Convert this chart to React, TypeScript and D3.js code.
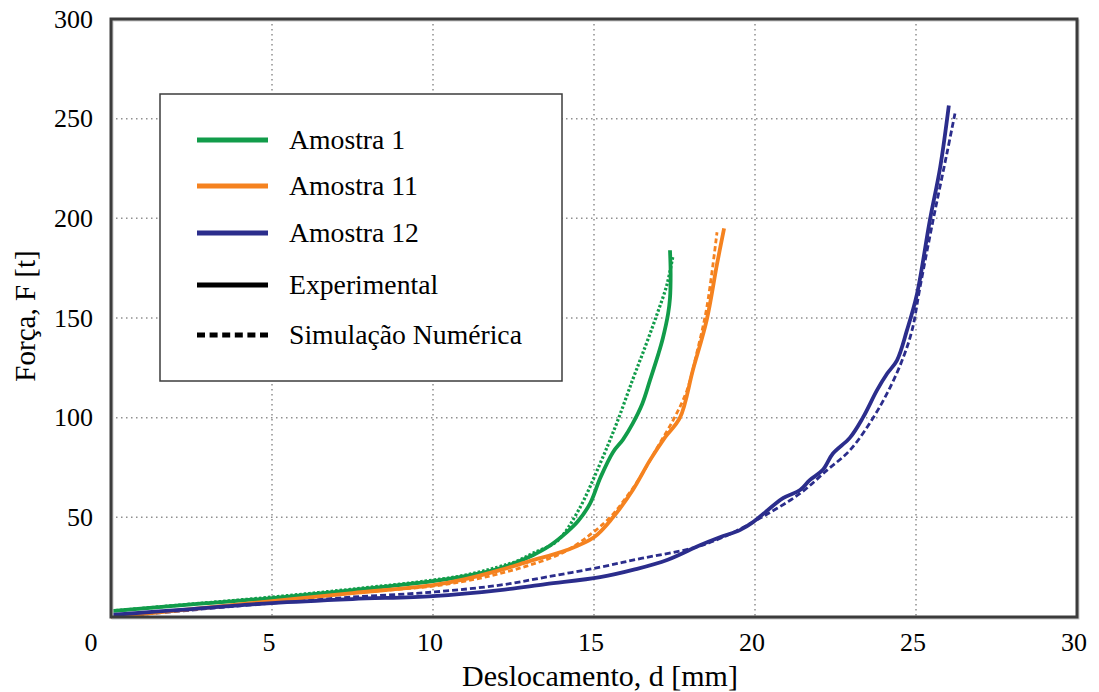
import React from 'react';
import * as d3 from 'd3';

// tick labels
const xTicks = [0, 5, 10, 15, 20, 25, 30];
const yTicks = [50, 100, 150, 200, 250, 300];
const gridX = [5, 10, 15, 20, 25];
const gridY = [50, 100, 150, 200, 250];

// Amostra 1 (green)
const a1ExpX = [0, 2.5, 5, 7.5, 10, 11, 12, 12.6, 13.1, 13.6, 14.16, 14.5, 14.88, 15.2, 15.59, 15.9, 16.2, 16.5, 16.74, 17.0, 17.14, 17.3, 17.36, 17.38, 17.36];
const a1ExpY = [3, 6.3, 9.5, 13.5, 18, 20.5, 24, 27.5, 31, 35.5, 42.6, 48, 57, 70, 82.7, 89, 97, 107, 118.8, 132, 140, 152, 160, 172, 184];
const a1SimX = [0, 2.5, 5, 7.5, 10, 11, 12, 12.6, 13.1, 13.85, 14.5, 15.19, 15.7, 16.2, 16.6, 16.96, 17.27, 17.45];
const a1SimY = [3, 6.5, 10, 14, 18.5, 21, 25, 28, 32, 38, 53, 77, 97, 119, 136, 152, 167, 181];

// Amostra 11 (orange)
const a11ExpX = [0, 2.5, 5, 7.5, 10, 11, 12.08, 13, 14.16, 15, 15.59, 16.2, 16.74, 17.2, 17.67, 18.07, 18.5, 18.82, 19.04];
const a11ExpY = [0, 4, 8, 12, 16, 19, 23.5, 28, 33.6, 40, 50, 63.6, 78.7, 90, 100, 123.8, 149, 177, 195];
const a11SimX = [0, 2.5, 5, 7.5, 10, 11, 12, 13, 14, 14.66, 15.5, 16.0, 16.43, 17.0, 17.5, 17.89, 18.2, 18.5, 18.82];
const a11SimY = [0, 4, 8, 12, 15.5, 18, 21.5, 26, 32, 38.6, 50, 60, 70, 86, 100, 113.8, 133, 155, 193];

// Amostra 12 (blue)
const a12ExpX = [0, 2.5, 5, 7.5, 10, 12.08, 13.5, 15.19, 16.3, 17.27, 18.29, 18.91, 19.53, 19.94, 20.87, 21.4, 21.7, 22.1, 22.42, 22.95, 23.35, 23.79, 24.1, 24.41, 24.72, 25.03, 25.43, 25.75, 26.02];
const a12ExpY = [1, 4, 7, 9, 10.5, 13.5, 16.5, 20, 24, 28.6, 36, 40, 43.6, 47.6, 59.6, 63.7, 68.7, 73.7, 82, 90, 100, 113.8, 122, 128.8, 143.9, 162, 199, 225.5, 256.6];
const a12SimX = [0, 2.5, 5, 7.5, 10, 12.08, 13.5, 15.19, 16.5, 18.07, 19.0, 20.16, 21.4, 22.24, 22.95, 23.66, 24.19, 24.6, 24.88, 25.12, 25.53, 25.96, 26.21];
const a12SimY = [0, 3.5, 7, 10, 12.5, 16, 20, 25, 29.5, 34.6, 40, 49.6, 62, 73.7, 83.7, 99.7, 115, 130, 144, 165, 199, 232.6, 252.6];

const legendNames = ['Amostra 1', 'Amostra 11', 'Amostra 12', 'Experimental', 'Simulação Numérica'];

const GREEN = '#119c4a';
const ORANGE = '#f5821f';
const BLUE = '#2b2d8c';
const FONT = '"Liberation Serif", "Times New Roman", serif';

export default function App() {
  const left = 111, right = 1077, top = 19, bottom = 617;
  const x = d3.scaleLinear().domain([0, 30]).range([left, right]);
  const y = d3.scaleLinear().domain([0, 300]).range([bottom, top]);

  const mk = (xs: number[], ys: number[]) =>
    d3.line<number>()
      .x((_, i) => x(xs[i]))
      .y((_, i) => y(ys[i]))
      .curve(d3.curveCatmullRom.alpha(0.5))(xs) || '';

  // dashed simulations under the experimental curves
  const series = [
    { d: mk(a1SimX, a1SimY), color: GREEN, w: 3.2, dash: '2.5,2' },
    { d: mk(a11SimX, a11SimY), color: ORANGE, w: 2.8, dash: '5,3' },
    { d: mk(a12SimX, a12SimY), color: BLUE, w: 2.8, dash: '6,3' },
    { d: mk(a1ExpX, a1ExpY), color: GREEN, w: 3.8, dash: null },
    { d: mk(a11ExpX, a11ExpY), color: ORANGE, w: 3.8, dash: null },
    { d: mk(a12ExpX, a12ExpY), color: BLUE, w: 3.8, dash: null },
  ];

  const legendColors = [GREEN, ORANGE, BLUE, '#000', '#000'];
  const legendY = [140, 186, 233, 285, 335];

  return (
    <svg width={1099} height={692} style={{ position: 'absolute', left: 0, top: 0, background: '#fff' }}>
      <rect x={0} y={0} width={1099} height={692} fill="#fff" />
      {/* grid */}
      {gridX.map(v => (
        <line key={'gx' + v} x1={x(v)} x2={x(v)} y1={top} y2={bottom}
          stroke="#8f8f8f" strokeWidth={1.5} strokeDasharray="1.5,3.5" />
      ))}
      {gridY.map(v => (
        <line key={'gy' + v} x1={left} x2={right} y1={y(v)} y2={y(v)}
          stroke="#8f8f8f" strokeWidth={1.5} strokeDasharray="1.5,3.5" />
      ))}

      {/* curves */}
      {series.map((s, i) => (
        <path key={i} d={s.d} fill="none" stroke={s.color} strokeWidth={s.w}
          strokeDasharray={s.dash || undefined} strokeLinejoin="round" />
      ))}

      {/* frame */}
      <rect x={left + 1.5} y={top + 1.5} width={right - left} height={bottom - top}
        fill="none" stroke="#c8c8c8" strokeWidth={2} />
      <rect x={left} y={top} width={right - left} height={bottom - top}
        fill="none" stroke="#3c3c3c" strokeWidth={3} />

      {/* y tick labels */}
      {yTicks.map(v => (
        <text key={'yt' + v} x={93} y={y(v)} textAnchor="end" dominantBaseline="central"
          fontFamily={FONT} fontSize={26} fill="#000">{v}</text>
      ))}
      {/* x tick labels */}
      {xTicks.map(v => (
        <text key={'xt' + v} x={v === 0 ? 91 : x(v) - 3} y={642} textAnchor="middle" dominantBaseline="central"
          fontFamily={FONT} fontSize={26} fill="#000">{v}</text>
      ))}

      {/* axis titles */}
      <text x={600} y={686} textAnchor="middle" fontFamily={FONT} fontSize={30} fill="#000">
        Deslocamento, d [mm]
      </text>
      <text transform="translate(35,316) rotate(-90)" textAnchor="middle" fontFamily={FONT} fontSize={29} fill="#000">
        Força, F [t]
      </text>

      {/* legend */}
      <rect x={160} y={94} width={402} height={287} fill="#fff" stroke="#3c3c3c" strokeWidth={1.5} />
      {legendNames.map((n, i) => (
        <g key={n}>
          <line x1={197} x2={268} y1={legendY[i]} y2={legendY[i]} stroke={legendColors[i]}
            strokeWidth={5} strokeDasharray={i === 4 ? '8,4.6' : undefined} />
          <text x={289} y={legendY[i] + 9} fontFamily={FONT} fontSize={27.7} fill="#000">{n}</text>
        </g>
      ))}
    </svg>
  );
}
